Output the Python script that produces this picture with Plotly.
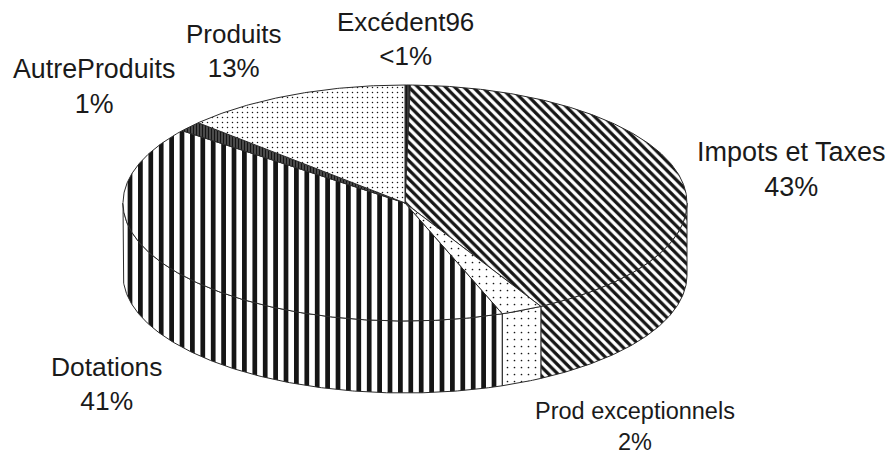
import numpy as np
import plotly.graph_objects as go

# Data, in pie order going clockwise from twelve o'clock
categories = ["Excédent96", "Impots et Taxes", "Prod exceptionnels", "Dotations", "AutreProduits", "Produits"]
shares = [0.3, 41.7, 2.4, 41.1, 1.4, 13.1]   # share of the drawn ellipse
printed = ["<1%", "43%", "2%", "41%", "1%", "13%"]

# Styles
shapes = ["|", "\\", ".", "|", "|", "."]
sizes = [3, 6.5, 7, 10.4, 3, 5]
solidities = [0.9, 0.5, 0.045, 0.45, 0.85, 0.07]
font_sizes = [26, 27, 23.5, 26.4, 26.8, 26]
# Geometry of the tilted disc, in picture pixels
CX, CY, RX, RY, DEPTH = 405, 203, 282, 118, 72
label_xy = [(405, 39), (791, 169), (635, 426), (107, 384), (94, 86), (233, 51)]


def arc(a0, a1, dy=0):
    n = max(2, int(abs(a1 - a0) * 2) + 2)
    t = np.radians(np.linspace(a0, a1, n))
    return CX + RX * np.sin(t), CY + dy - RY * np.cos(t)


fig = go.Figure()


def add(x, y, i):
    fig.add_trace(go.Scatter(
        x=x, y=y, mode="lines", fill="toself", hoverinfo="text", text=categories[i],
        line=dict(color="#2a2a2a", width=1), fillcolor="white",
        fillpattern=dict(shape=shapes[i], size=sizes[i], solidity=solidities[i],
                         fgcolor="#151515", bgcolor="white", fgopacity=1),
        showlegend=False,
    ))


edges = np.concatenate([[0], np.cumsum(shares)]) / sum(shares) * 360

# Visible walls (front half of the disc)
for i in range(len(shares)):
    a0, a1 = max(edges[i], 90), min(edges[i + 1], 270)
    if a1 > a0:
        xt, yt = arc(a0, a1)
        xb, yb = arc(a1, a0, DEPTH)
        add(np.r_[xt, xb, xt[0]], np.r_[yt, yb, yt[0]], i)

# Top faces
for i in range(len(shares)):
    xt, yt = arc(edges[i], edges[i + 1])
    add(np.r_[CX, xt, CX], np.r_[CY, yt, CY], i)

for (x, y), c, p, fs in zip(label_xy, categories, printed, font_sizes):
    fig.add_annotation(x=x, y=y, text=f"{c}<br>{p}", showarrow=False, xref="x", yref="y",
                       font=dict(family="Liberation Sans", size=fs, color="#1a1a1a"),
                       align="center")

fig.update_xaxes(range=[0, 891], visible=False)
fig.update_yaxes(range=[457, 0], visible=False)
fig.update_layout(width=891, height=457, margin=dict(l=0, r=0, t=0, b=0),
                  paper_bgcolor="white", plot_bgcolor="white")
fig.write_html("out.html", post_script="document.body.style.margin='0';",
               config={"displayModeBar": False})
